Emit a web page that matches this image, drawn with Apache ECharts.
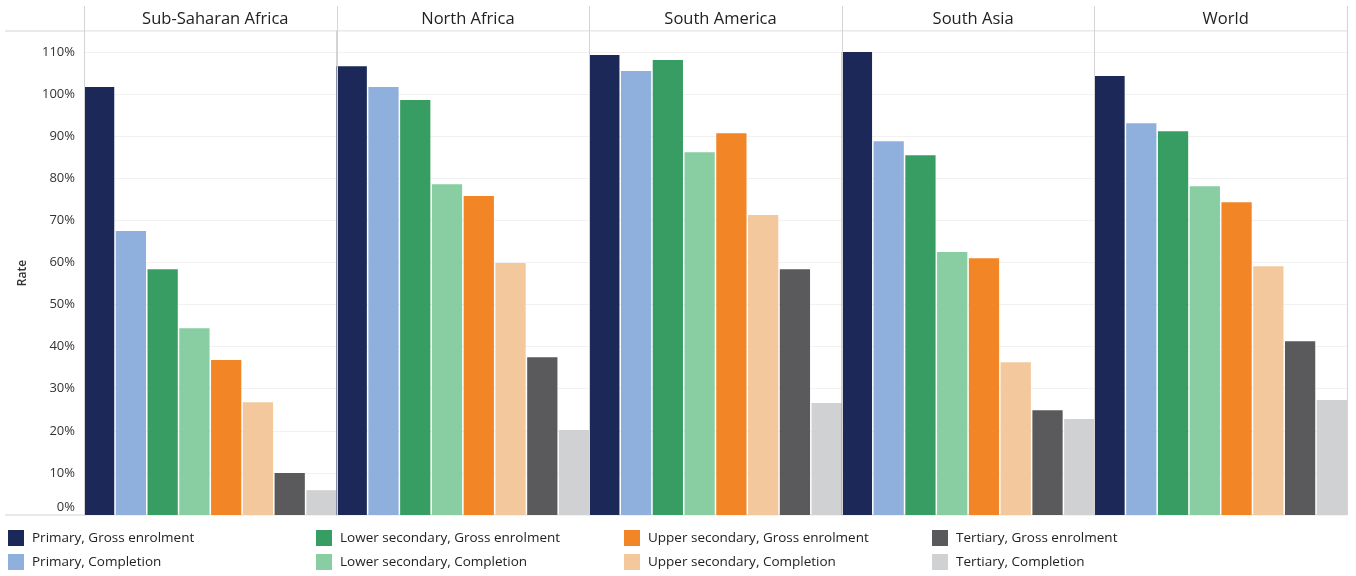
<!DOCTYPE html>
<html>
<head>
<meta charset="utf-8">
<script src="https://cdn.jsdelivr.net/npm/echarts@6/dist/echarts.min.js"></script>
<style>
  html, body { margin: 0; padding: 0; background: #fff; }
  #chart { width: 1356px; height: 576px; }
</style>
</head>
<body>
<div id="chart"></div>
<script>
// regions (one panel each)
const regions = ['Sub-Saharan Africa', 'North Africa', 'South America', 'South Asia', 'World']
// measures, in legend order
const measures = [
  'Primary, Gross enrolment', 'Primary, Completion',
  'Lower secondary, Gross enrolment', 'Lower secondary, Completion',
  'Upper secondary, Gross enrolment', 'Upper secondary, Completion',
  'Tertiary, Gross enrolment', 'Tertiary, Completion'
]
const colors = ['#1b2858', '#8fb0dc', '#389d62', '#89cda3', '#f28526', '#f4c89d', '#5a5a5c', '#d0d1d3']

// values in % per region
const subSaharan = [101.7, 67.5, 58.4, 44.4, 36.8, 26.8, 10.0, 5.9]
const northAfrica = [106.6, 101.7, 98.6, 78.6, 75.8, 59.9, 37.5, 20.2]
const southAmerica = [109.3, 105.5, 108.1, 86.2, 90.7, 71.3, 58.4, 26.6]
const southAsia = [110.0, 88.8, 85.5, 62.5, 61.0, 36.3, 24.9, 22.8]
const world = [104.3, 93.1, 91.2, 78.1, 74.3, 59.1, 41.3, 27.3]
const values = [subSaharan, northAfrica, southAmerica, southAsia, world]

const fontFamily = '"Open Sans", sans-serif'
const lineColor = '#d4d4d4'

// panel layout
const panelLeft = 84
const panelW = 252.6
const plotTop = 31
const plotBottom = 515

const myChart = echarts.init(document.getElementById('chart'))

const grid = []
const xAxis = []
const yAxis = []
const series = []
const title = []
regions.forEach((region, i) => {
  grid.push({
    left: panelLeft + i * panelW,
    width: panelW,
    top: plotTop,
    height: plotBottom - plotTop
  })
  xAxis.push({
    type: 'category',
    gridIndex: i,
    data: [region],
    axisLine: { show: false },
    axisTick: { show: false },
    axisLabel: { show: false }
  })
  yAxis.push({
    type: 'value',
    gridIndex: i,
    min: 0,
    max: 115,
    interval: 10,
    axisLine: { show: true, lineStyle: { color: lineColor, width: 1 } },
    axisTick: { show: false },
    splitLine: { show: true, lineStyle: { color: '#f2f2f2', width: 1 } },
    axisLabel: {
      show: i === 0,
      showMaxLabel: false,
      margin: 9,
      color: '#333',
      fontFamily,
      fontSize: 13,
      formatter: v => (v === 0 ? '{z|0%}' : v + '%'),
      rich: { z: { padding: [0, 0, 16, 0], fontFamily, fontSize: 13, color: '#333' } }
    },
    name: i === 0 ? 'Rate' : '',
    nameLocation: 'middle',
    nameGap: 55,
    nameTextStyle: { color: '#333', fontFamily, fontSize: 12, fontWeight: 600 }
  })
  measures.forEach((m, k) => {
    series.push({
      name: m,
      type: 'bar',
      xAxisIndex: i,
      yAxisIndex: i,
      data: [values[i][k]],
      barCategoryGap: '0%',
      barGap: '5%',
      itemStyle: { color: colors[k] },
      emphasis: { disabled: true }
    })
  })
  title.push({
    text: region,
    left: panelLeft + i * panelW + panelW / 2,
    top: 6,
    textAlign: 'center',
    textStyle: { color: '#222', fontFamily, fontSize: 16.5, fontWeight: 'normal' }
  })
})

// header/axis rules and panel separators
const graphic = [
  { type: 'line', shape: { x1: 5, y1: plotTop, x2: panelLeft + 5 * panelW, y2: plotTop }, style: { stroke: lineColor, lineWidth: 1 } },
  { type: 'line', shape: { x1: 5, y1: plotBottom, x2: panelLeft + 5 * panelW, y2: plotBottom }, style: { stroke: lineColor, lineWidth: 1 } }
]
for (let i = 0; i <= regions.length; i++) {
  const x = Math.round(panelLeft + i * panelW) + 0.5
  graphic.push({ type: 'line', shape: { x1: x, y1: 6, x2: x, y2: plotBottom }, style: { stroke: lineColor, lineWidth: 1 }, z: 10 })
}

// legend: four columns, two rows each
const legendCols = [0, 1, 2, 3].map(c => ({
  orient: 'vertical',
  left: 8 + c * 308,
  top: 530,
  padding: 0,
  itemWidth: 16,
  itemHeight: 16,
  itemGap: 8,
  icon: 'rect',
  selectedMode: false,
  data: [measures[c * 2], measures[c * 2 + 1]],
  textStyle: { color: '#222', fontFamily, fontSize: 13.5, padding: [0, 0, 0, 3] }
}))

const option = {
  animation: false,
  color: colors,
  title,
  grid,
  xAxis,
  yAxis,
  series,
  legend: legendCols,
  graphic
}
myChart.setOption(option)
</script>
</body>
</html>
